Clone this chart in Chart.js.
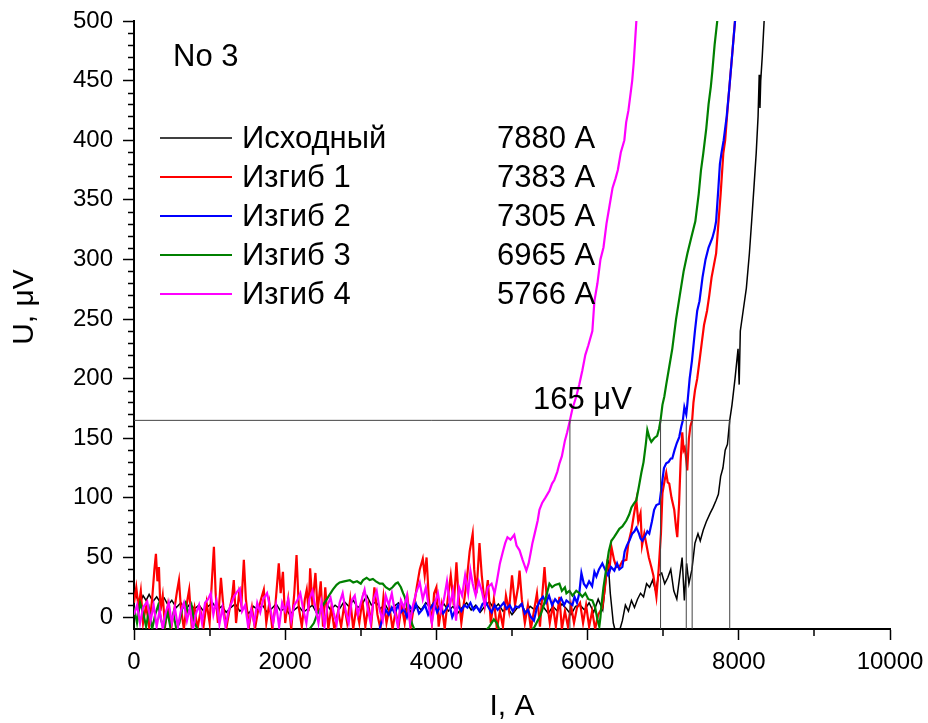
<!DOCTYPE html>
<html>
<head>
<meta charset="utf-8">
<script src="https://cdn.jsdelivr.net/npm/chart.js@4.4.1/dist/chart.umd.min.js"></script>
<style>
  html, body { margin: 0; padding: 0; background: #fff; }
  #wrap { width: 928px; height: 723px; }
</style>
</head>
<body>
<div id="wrap"><canvas id="vacChart"></canvas></div>
<script>
// --- DATA: I (A), U (uV) pairs ---
const sampleName = 'No 3';
const seriesLabels = ['Исходный', 'Изгиб 1', 'Изгиб 2', 'Изгиб 3', 'Изгиб 4'];
const seriesColors = ['#000000', '#ff0000', '#0000ff', '#008000', '#ff00ff'];
const criticalI = [7880, 7383, 7305, 6965, 5766];
const criterionU = 165;
const xRange = [0, 10000];
const yRange = [-10, 500];

const initial = [[0,22],[40,16],[80,12],[120,18],[160,14],[200,19],[250,13],[300,17],[350,12],[400,16],[450,10],[500,14],[560,8],[620,12],[680,6],[740,11],[800,7],[860,10],[920,5],[980,9],[1040,12],[1100,6],[1160,9],[1220,4],[1280,8],[1340,11],[1400,5],[1460,8],[1520,3],[1580,9],[1640,6],[1700,10],[1760,4],[1820,7],[1880,11],[1940,5],[2000,8],[2060,2],[2120,6],[2180,9],[2240,4],[2300,7],[2360,10],[2420,3],[2480,8],[2540,12],[2600,6],[2660,10],[2720,7],[2780,13],[2840,9],[2900,14],[2960,8],[3020,11],[3080,18],[3140,10],[3200,13],[3260,7],[3320,11],[3380,4],[3440,9],[3500,12],[3560,5],[3620,8],[3680,3],[3740,10],[3800,6],[3860,12],[3920,8],[3980,14],[4040,7],[4100,11],[4160,5],[4220,9],[4280,3],[4340,8],[4400,12],[4460,6],[4520,10],[4580,4],[4640,9],[4700,13],[4760,7],[4820,11],[4880,5],[4940,8],[5000,2],[5060,7],[5120,11],[5180,4],[5240,9],[5300,6],[5360,12],[5420,8],[5480,3],[5540,9],[5600,5],[5660,11],[5720,7],[5780,2],[5840,9],[5900,10],[5960,6],[6020,12],[6080,4],[6140,15],[6200,6],[6240,30],[6270,48],[6300,20],[6340,-5],[6380,-15],[6420,-12],[6460,-3],[6500,10],[6540,5],[6580,14],[6620,8],[6660,15],[6700,20],[6740,17],[6780,28],[6820,25],[6860,31],[6900,22],[6940,35],[6980,37],[7020,28],[7060,33],[7100,40],[7140,22],[7180,15],[7220,35],[7250,50],[7280,14],[7310,45],[7340,28],[7380,40],[7420,62],[7460,70],[7490,64],[7530,73],[7570,80],[7620,87],[7660,92],[7700,98],[7730,103],[7760,118],[7790,125],[7820,140],[7850,145],[7880,165],[7910,178],[7950,200],[7990,225],[8005,195],[8020,240],[8060,258],[8100,276],[8140,305],[8170,332],[8200,360],[8230,389],[8255,420],[8270,455],[8280,427],[8290,450],[8310,470],[8335,500],[8360,525]];

const bend1 = [[0,12],[30,25],[60,8],[90,22],[120,-5],[160,10],[200,-8],[240,15],[270,40],[290,53],[310,30],[330,42],[350,5],[380,18],[410,-8],[450,10],[490,-10],[530,5],[570,22],[595,31],[620,8],[660,-10],[700,12],[730,23],[760,-5],[800,8],[840,-10],[880,5],[920,-8],[960,12],[1000,-5],[1030,30],[1057,59],[1080,20],[1110,-5],[1150,33],[1180,10],[1220,-10],[1260,5],[1300,18],[1320,31],[1350,-5],[1390,20],[1420,10],[1453,48],[1480,15],[1520,-8],[1560,8],[1600,-10],[1640,5],[1680,15],[1717,23],[1750,-5],[1790,12],[1830,-10],[1870,10],[1915,45],[1940,20],[1970,38],[2000,-5],[2040,15],[2080,-10],[2120,20],[2150,52],[2180,8],[2220,-8],[2260,15],[2285,23],[2310,5],[2330,41],[2360,10],[2400,37],[2430,5],[2470,30],[2500,-8],[2530,25],[2570,-10],[2610,8],[2650,-10],[2700,5],[2740,-8],[2780,10],[2820,-5],[2860,15],[2900,-10],[2940,8],[2980,-5],[3020,14],[3060,-8],[3100,10],[3140,-5],[3180,25],[3220,2],[3260,-10],[3300,17],[3340,-5],[3380,8],[3420,-10],[3460,5],[3500,-8],[3540,10],[3580,-5],[3620,15],[3660,-8],[3700,8],[3740,25],[3780,40],[3820,49],[3845,35],[3870,50],[3900,15],[3940,-5],[3970,20],[4000,25],[4030,-8],[4070,10],[4110,-10],[4150,15],[4190,35],[4230,10],[4265,46],[4290,20],[4330,-5],[4370,15],[4400,30],[4440,55],[4480,70],[4500,40],[4530,20],[4570,62],[4600,35],[4640,10],[4680,31],[4720,-5],[4760,15],[4800,-10],[4840,5],[4880,-8],[4920,18],[4960,5],[5000,35],[5040,10],[5080,25],[5100,39],[5130,15],[5170,-5],[5210,10],[5250,-10],[5290,5],[5330,20],[5370,-8],[5400,18],[5430,42],[5460,15],[5500,-5],[5540,10],[5580,-8],[5627,17],[5660,-10],[5700,5],[5740,-8],[5780,10],[5820,-5],[5860,8],[5900,12],[5940,-5],[5980,10],[6020,-8],[6060,5],[6100,-10],[6140,2],[6195,8],[6230,25],[6260,45],[6290,40],[6315,59],[6350,48],[6380,42],[6420,42],[6460,47],[6513,48],[6540,62],[6580,73],[6610,85],[6645,98],[6670,80],[6700,87],[6720,60],[6750,70],[6780,60],[6810,50],[6843,42],[6870,35],[6910,17],[6940,40],[6970,70],[6990,104],[7020,115],[7040,121],[7060,113],[7080,112],[7110,100],[7146,90],[7170,75],[7186,67],[7210,95],[7230,130],[7252,155],[7270,140],[7285,142],[7300,135],[7318,123],[7340,150],[7360,160],[7383,165],[7400,180],[7420,190],[7450,200],[7480,215],[7510,230],[7540,245],[7580,257],[7610,270],[7640,285],[7670,295],[7700,305],[7730,330],[7760,355],[7795,389],[7820,400],[7850,425],[7875,444],[7910,470],[7950,500],[7980,525]];

const bend2 = [[3250,-10],[3290,0],[3330,6],[3370,2],[3410,8],[3450,3],[3490,10],[3530,4],[3570,7],[3610,0],[3650,9],[3690,5],[3730,11],[3770,3],[3810,6],[3850,10],[3890,2],[3930,8],[3970,12],[4010,4],[4050,9],[4090,3],[4130,7],[4170,11],[4210,0],[4250,6],[4290,9],[4330,5],[4370,10],[4410,8],[4450,12],[4490,6],[4530,9],[4570,5],[4610,11],[4650,13],[4690,8],[4730,4],[4770,10],[4810,6],[4850,9],[4890,12],[4930,7],[4970,10],[5010,5],[5050,9],[5090,8],[5130,11],[5170,3],[5210,6],[5250,0],[5290,-3],[5330,8],[5370,14],[5410,17],[5450,12],[5490,18],[5530,10],[5570,15],[5610,12],[5650,16],[5690,10],[5720,14],[5760,12],[5800,10],[5826,17],[5860,12],[5890,20],[5918,37],[5950,28],[5984,25],[6020,30],[6060,26],[6090,38],[6116,34],[6150,40],[6195,45],[6230,40],[6270,35],[6310,42],[6354,39],[6390,45],[6420,40],[6460,42],[6490,55],[6520,60],[6552,64],[6590,70],[6620,72],[6645,75],[6680,70],[6700,66],[6724,64],[6760,68],[6790,72],[6816,70],[6850,80],[6880,90],[6910,94],[6950,95],[6970,105],[6990,115],[7010,125],[7040,129],[7070,130],[7100,133],[7120,133],[7150,140],[7180,146],[7212,151],[7240,160],[7260,165],[7280,176],[7305,170],[7320,179],[7350,200],[7380,215],[7420,240],[7450,257],[7480,265],[7520,285],[7560,300],[7600,310],[7650,318],[7680,325],[7700,332],[7730,360],[7750,380],[7770,389],[7800,400],[7840,420],[7875,444],[7910,470],[7950,500],[7980,525]];

const bend3 = [[0,8],[40,-5],[80,12],[120,4],[160,-8],[200,6],[240,-10],[280,2],[320,10],[360,-3],[400,-10],[440,5],[480,-8],[520,3],[560,-10],[600,-5],[640,8],[680,12],[720,3],[760,10],[800,-5],[840,-10],[880,-14],[1000,-15],[1500,-15],[2000,-15],[2300,-12],[2380,-5],[2420,2],[2457,6],[2500,10],[2540,14],[2580,18],[2630,23],[2680,27],[2720,29],[2780,30],[2855,31],[2900,29],[2950,30],[3000,28],[3030,31],[3077,33],[3117,31],[3160,32],[3200,30],[3250,28],[3290,28],[3330,25],[3380,23],[3420,25],[3460,28],[3490,29],[3530,25],[3560,20],[3580,17],[3610,10],[3645,3],[3680,-6],[3720,-12],[4000,-15],[4600,-15],[4700,-8],[4760,-2],[4800,-5],[4840,-12],[5200,-15],[5300,-8],[5380,2],[5420,10],[5455,18],[5495,28],[5530,25],[5570,27],[5627,28],[5660,22],[5700,25],[5720,20],[5760,22],[5800,18],[5850,22],[5892,20],[5930,17],[5970,20],[6010,15],[6063,14],[6100,8],[6130,-2],[6155,-8],[6170,0],[6180,8],[6210,25],[6250,42],[6280,55],[6315,64],[6350,67],[6380,70],[6420,74],[6460,76],[6513,81],[6550,86],[6580,92],[6610,95],[6645,98],[6680,110],[6711,121],[6740,130],[6770,145],[6790,157],[6820,150],[6843,147],[6880,150],[6920,152],[6945,158],[6965,165],[6990,178],[7015,185],[7040,195],[7080,210],[7120,225],[7170,250],[7220,270],[7270,290],[7320,305],[7370,318],[7425,332],[7470,355],[7500,375],[7530,389],[7570,410],[7600,430],[7630,445],[7650,458],[7680,480],[7715,500],[7740,525]];

const bend4 = [[0,2],[40,10],[80,-5],[120,8],[175,13],[220,-3],[260,10],[300,-8],[340,6],[380,-10],[420,4],[460,12],[500,-5],[540,8],[580,-8],[620,5],[660,12],[700,-3],[740,8],[780,-10],[820,3],[860,10],[900,-5],[940,12],[980,15],[1015,20],[1050,2],[1090,14],[1130,-6],[1170,8],[1210,-8],[1250,5],[1290,12],[1330,18],[1360,21],[1400,24],[1430,5],[1470,10],[1510,-8],[1550,6],[1590,-5],[1630,12],[1670,4],[1710,15],[1760,20],[1800,8],[1840,-5],[1880,10],[1920,-8],[1960,12],[2000,5],[2040,15],[2080,-3],[2120,10],[2160,14],[2200,20],[2240,6],[2280,-5],[2320,15],[2360,22],[2400,8],[2440,-5],[2480,12],[2520,-8],[2560,10],[2600,16],[2640,4],[2680,-6],[2720,12],[2760,20],[2800,5],[2840,-5],[2880,14],[2920,18],[2960,2],[3000,12],[3050,23],[3090,8],[3130,-5],[3170,15],[3210,22],[3250,6],[3290,-3],[3330,18],[3370,10],[3410,20],[3450,5],[3490,-8],[3530,14],[3570,8],[3610,18],[3650,-5],[3690,10],[3730,20],[3780,29],[3820,15],[3860,25],[3900,8],[3940,-5],[3980,12],[4020,20],[4060,5],[4100,15],[4140,30],[4180,10],[4220,22],[4260,-3],[4300,25],[4340,18],[4380,35],[4420,20],[4450,39],[4480,28],[4520,18],[4560,30],[4600,22],[4640,10],[4680,25],[4730,28],[4770,20],[4800,30],[4840,45],[4880,55],[4910,62],[4940,67],[4980,65],[5030,69],[5060,60],[5100,56],[5140,48],[5190,39],[5220,45],[5250,55],[5270,62],[5300,70],[5340,81],[5363,90],[5400,96],[5440,100],[5495,106],[5530,112],[5560,115],[5600,122],[5628,129],[5660,135],[5700,148],[5730,155],[5766,165],[5800,175],[5850,185],[5890,195],[5931,207],[5970,220],[6010,228],[6063,240],[6090,265],[6130,280],[6170,300],[6210,310],[6250,330],[6290,345],[6330,360],[6370,368],[6400,375],[6440,390],[6486,400],[6510,415],[6540,425],[6570,440],[6590,450],[6610,465],[6630,485],[6645,500],[6665,525]];

const curves = [initial, bend1, bend2, bend3, bend4];

const FONT = '"Liberation Sans", Arial, sans-serif';

// data series (first one drawn at the bottom, magenta on top)
const datasets = curves.map((c, i) => ({
    label: seriesLabels[i],
    data: c.map(p => ({ x: p[0], y: p[1] })),
    borderColor: seriesColors[i],
    borderWidth: i === 0 ? 1.5 : 2.2,
    pointRadius: 0,
    tension: 0,
    order: 10 - i
}));

// 165 uV criterion lines
datasets.push({
    label: 'criterion',
    data: [{ x: xRange[0], y: criterionU }, { x: Math.max(...criticalI), y: criterionU }],
    borderColor: '#444', borderWidth: 1, pointRadius: 0, order: 0
});
criticalI.forEach(ic => {
    datasets.push({
        label: 'Ic ' + ic,
        data: [{ x: ic, y: yRange[0] }, { x: ic, y: criterionU }],
        borderColor: '#444', borderWidth: 1, pointRadius: 0, order: 0
    });
});

// minor ticks, titles, legend with Ic values
const decorations = {
    id: 'decorations',
    afterDraw(chart) {
        const ctx = chart.ctx;
        const xs = chart.scales.x, ys = chart.scales.y;
        const area = chart.chartArea;
        ctx.save();
        ctx.strokeStyle = '#000';
        ctx.lineWidth = 1.5;
        ctx.beginPath();
        for (let v = 1000; v < xRange[1]; v += 2000) {
            const px = Math.round(xs.getPixelForValue(v));
            ctx.moveTo(px, area.bottom);
            ctx.lineTo(px, area.bottom + 7);
        }
        for (let v = 10; v < yRange[1]; v += 10) {
            if (v % 50 === 0) continue;
            const py = Math.round(ys.getPixelForValue(v)) + 0.5;
            ctx.moveTo(area.left, py);
            ctx.lineTo(area.left - 6, py);
        }
        ctx.stroke();

        ctx.fillStyle = '#000';
        ctx.textBaseline = 'middle';
        ctx.textAlign = 'left';
        ctx.font = '31px ' + FONT;
        ctx.fillText(sampleName, 173, 57);

        // legend
        seriesLabels.forEach((lab, i) => {
            const y = 138 + i * 39;
            ctx.strokeStyle = seriesColors[i];
            ctx.lineWidth = i === 0 ? 1.5 : 2.2;
            ctx.beginPath();
            ctx.moveTo(160, y);
            ctx.lineTo(232, y);
            ctx.stroke();
            ctx.fillText(lab, 242, y + 1);
            ctx.fillText(criticalI[i] + ' A', 497, y + 1);
        });

        ctx.fillText(criterionU + ' \u03bcV', 533, ys.getPixelForValue(criterionU) - 20);

        // axis titles
        ctx.font = '30px ' + FONT;
        ctx.textAlign = 'center';
        ctx.fillText('I, A', (area.left + area.right) / 2, 707);
        ctx.translate(25, 307);
        ctx.rotate(-Math.PI / 2);
        ctx.fillText('U, \u03bcV', 0, 0);
        ctx.restore();
    }
};

new Chart(document.getElementById('vacChart'), {
    type: 'line',
    data: { datasets: datasets },
    options: {
        responsive: true,
        maintainAspectRatio: false,
        animation: false,
        layout: { padding: { top: 21, right: 38, left: 0, bottom: 0 } },
        plugins: { legend: { display: false }, tooltip: { enabled: false } },
        scales: {
            x: {
                type: 'linear',
                min: xRange[0],
                max: xRange[1],
                afterFit: s => { s.height = 94; s.paddingLeft = 0; s.paddingRight = 0; },
                border: { display: true, color: '#000', width: 2 },
                grid: { drawOnChartArea: false, drawTicks: true, tickLength: 11, tickColor: '#000', tickWidth: 1.5 },
                ticks: { stepSize: 2000, includeBounds: false, color: '#000', padding: 8, maxRotation: 0,
                         callback: v => String(v),
                         font: { family: FONT, size: 24 } }
            },
            y: {
                type: 'linear',
                min: yRange[0],
                max: yRange[1],
                afterFit: s => { s.width = 134; s.paddingTop = 0; s.paddingBottom = 0; },
                border: { display: true, color: '#000', width: 2 },
                grid: { drawOnChartArea: false, drawTicks: true, tickLength: 11, tickColor: '#000', tickWidth: 1.5 },
                ticks: { stepSize: 50, includeBounds: false, color: '#000', padding: 10,
                         callback: v => String(v),
                         font: { family: FONT, size: 24 } }
            }
        }
    },
    plugins: [decorations]
});
</script>
</body>
</html>
